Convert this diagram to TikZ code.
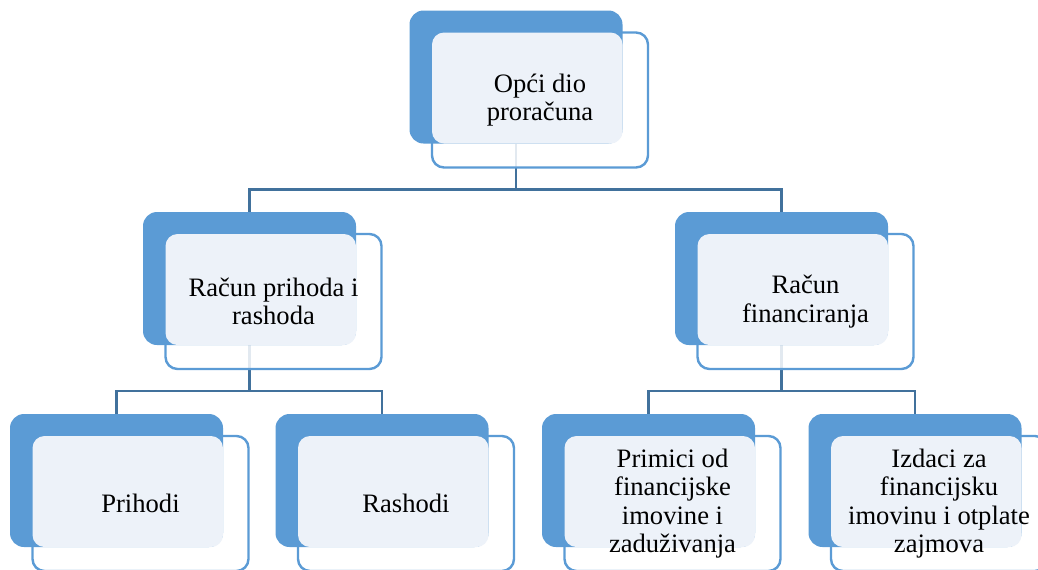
\documentclass[tikz,border=0pt]{standalone}
\usepackage{fontspec}
\setmainfont{Liberation Serif}
\usetikzlibrary{calc, backgrounds}
\definecolor{accent}{HTML}{5B9BD5}
\definecolor{linkblue}{HTML}{41719C}
\definecolor{paleblue}{HTML}{EDF2F9}
\tikzset{
	backbox/.style={rectangle, rounded corners=7pt, fill=accent, inner sep=0pt, outer sep=0pt,
		minimum width=106.5pt, minimum height=66.5pt},
	frontbox/.style={rectangle, rounded corners=6pt, draw=accent, line width=1.2pt, fill=white,
		fill opacity=0.85, inner sep=0pt, outer sep=0pt, minimum width=108pt, minimum height=67.5pt},
	boxtext/.style={align=center, inner sep=0pt, font=\fontsize{13.3}{14.2}\selectfont},
	link/.style={draw=linkblue, line width=1.3pt}
}

\begin{document}
\begin{tikzpicture}[x=0.5pt, y=-0.5pt]
	\clip (0,0) rectangle (1038,569);
	\coordinate (T) at (516,77);
	\coordinate (A) at (249.5,278.5);
	\coordinate (B) at (781.5,278.5);
	\coordinate (A1) at (116.5,480.5);
	\coordinate (A2) at (382,480.5);
	\coordinate (B1) at (648.5,480.5);
	\coordinate (B2) at (915,480.5);
	% Opci dio proracuna
	\node [frontbox] (T-f) at ($(T)+(24,23)$) {};
	\node [backbox] (T-b) at (T) {};
	\fill [paleblue, rounded corners=6pt] (T-f.north west) rectangle (T-b.south east);
	\node [boxtext] (T-t) at (T-f) {Opći dio\\proračuna};
	% Racun prihoda i rashoda
	\node [frontbox] (A-f) at ($(A)+(24,23)$) {};
	\node [backbox] (A-b) at (A) {};
	\fill [paleblue, rounded corners=6pt] (A-f.north west) rectangle (A-b.south east);
	\node [boxtext] (A-t) at (A-f) {Račun prihoda i\\rashoda};
	% Racun financiranja
	\node [frontbox] (B-f) at ($(B)+(24,23)$) {};
	\node [backbox] (B-b) at (B) {};
	\fill [paleblue, rounded corners=6pt] (B-f.north west) rectangle (B-b.south east);
	\node [boxtext] (B-t) at (B-f) {Račun\\financiranja};
	% Prihodi
	\node [frontbox] (A1-f) at ($(A1)+(24,23)$) {};
	\node [backbox] (A1-b) at (A1) {};
	\fill [paleblue, rounded corners=6pt] (A1-f.north west) rectangle (A1-b.south east);
	\node [boxtext] (A1-t) at (A1-f) {Prihodi};
	% Rashodi
	\node [frontbox] (A2-f) at ($(A2)+(24,23)$) {};
	\node [backbox] (A2-b) at (A2) {};
	\fill [paleblue, rounded corners=6pt] (A2-f.north west) rectangle (A2-b.south east);
	\node [boxtext] (A2-t) at (A2-f) {Rashodi};
	% Primici
	\node [frontbox] (B1-f) at ($(B1)+(24,23)$) {};
	\node [backbox] (B1-b) at (B1) {};
	\fill [paleblue, rounded corners=6pt] (B1-f.north west) rectangle (B1-b.south east);
	\node [boxtext] (B1-t) at (B1-f) {Primici od\\financijske\\imovine i\\zaduživanja};
	% Izdaci
	\node [frontbox] (B2-f) at ($(B2)+(24,23)$) {};
	\node [backbox] (B2-b) at (B2) {};
	\fill [paleblue, rounded corners=6pt] (B2-f.north west) rectangle (B2-b.south east);
	\node [boxtext] (B2-t) at (B2-f) {Izdaci za\\financijsku\\imovinu i otplate\\zajmova};
	% connectors
	\begin{scope}[on background layer]
		\coordinate (T-bus) at ($(T-b |- T-f.south)+(0,22)$);
		\coordinate (A-bus) at ($(A-b |- A-f.south)+(0,22)$);
		\coordinate (B-bus) at ($(B-b |- B-f.south)+(0,22)$);
		\draw [link] (T-b.south) -- (T-bus) -| (A-b.north);
		\draw [link] (T-bus) -| (B-b.north);
		\draw [link] (A-b.south) -- (A-bus) -| (A1-b.north);
		\draw [link] (A-bus) -| (A2-b.north);
		\draw [link] (B-b.south) -- (B-bus) -| (B1-b.north);
		\draw [link] (B-bus) -| (B2-b.north);
	\end{scope}
\end{tikzpicture}
\end{document}
